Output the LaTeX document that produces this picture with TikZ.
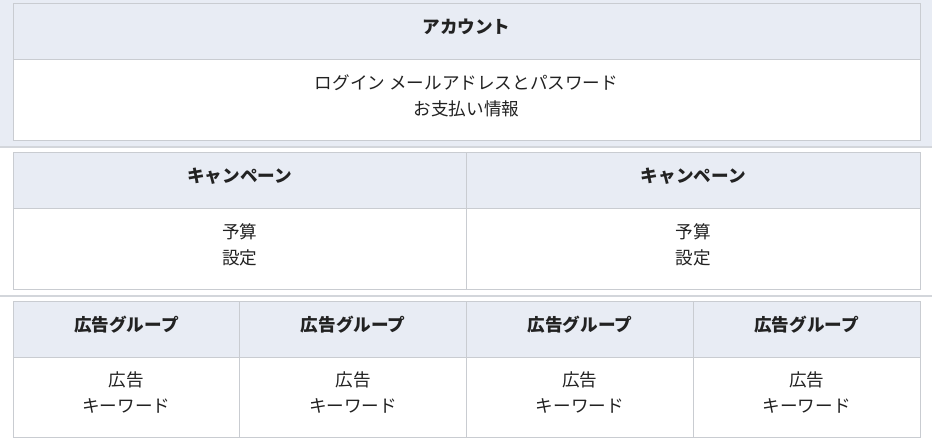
\documentclass[tikz,border=0pt]{standalone}
\usepackage{fontspec}
\setmainfont{Noto Sans CJK JP}
\definecolor{bandbg}{HTML}{E8ECF4}
\definecolor{headbg}{HTML}{E8ECF4}
\definecolor{cellline}{HTML}{C9CCD1}
\definecolor{sepline}{HTML}{D3D6DB}
\definecolor{txt}{HTML}{222222}
\begin{document}
\begin{tikzpicture}[x=0.75pt, y=-0.75pt]
    % Define the styles for the cells
    \tikzset{cell/.style={rectangle, draw=cellline, line width=0.75pt, inner sep=0pt, outer sep=0pt,
        text=txt, align=center, font=\fontsize{13.2}{19.5}\selectfont}}
    \tikzset{headcell/.style={cell, fill=headbg, font=\fontsize{13.2}{19.5}\selectfont\bfseries,
        minimum height=42pt, text height=10pt, text depth=7.7pt}}
    \tikzset{bodycell/.style={cell, fill=white, minimum height=60.75pt, text height=30pt, text depth=8.2pt}}
    \tikzset{sep/.style={draw=sepline, line width=1.1pt}}

    \useasboundingbox (0,0) rectangle (932,441);

    % Background of the account band
    \fill[bandbg] (0,0) rectangle (932,147);
    \draw[sep] (0,147) -- (932,147);
    \draw[sep] (0,296) -- (932,296);

    % Account
    \node[headcell, minimum width=680.25pt] (acct) at (466.5,32) {アカウント};
    \node[bodycell, minimum width=680.25pt] (acctbody) at (466.5,100.5) {ログイン メールアドレスとパスワード\\お支払い情報};

    % Campaigns
    \node[headcell, minimum width=340.125pt] (camp1) at (239.75,181) {キャンペーン};
    \node[headcell, minimum width=340.125pt] (camp2) at (693.25,181) {キャンペーン};
    \node[bodycell, minimum width=340.125pt] (camp1body) at (239.75,249.5) {予算\\設定};
    \node[bodycell, minimum width=340.125pt] (camp2body) at (693.25,249.5) {予算\\設定};

    % Ad groups
    \foreach \i/\cx in {1/126.375, 2/353.125, 3/579.875, 4/806.625} {
        \node[headcell, minimum width=170.06pt] (grp\i) at (\cx,330) {広告グループ};
        \node[bodycell, minimum width=170.06pt, minimum height=60pt] (grp\i body) at (\cx,398) {広告\\キーワード};
    }
\end{tikzpicture}
\end{document}
